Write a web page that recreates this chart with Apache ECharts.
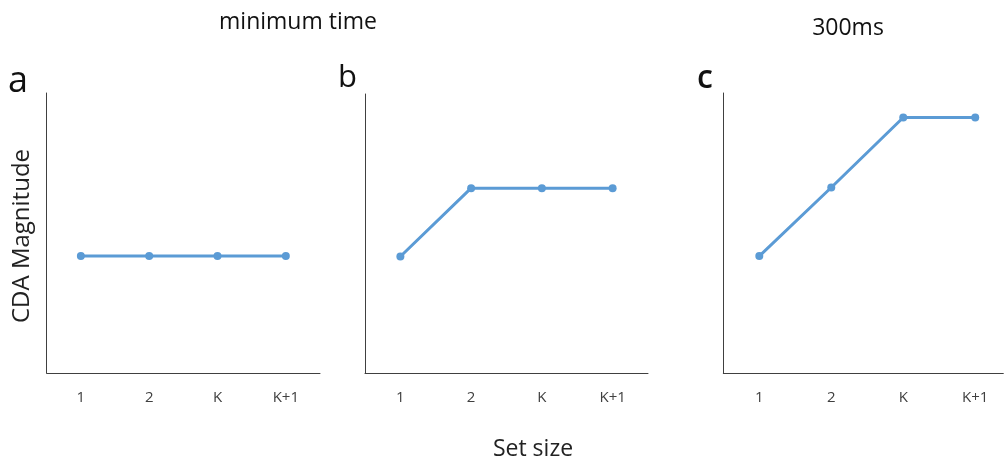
<!DOCTYPE html>
<html>
<head>
<meta charset="utf-8">
<script src="https://cdn.jsdelivr.net/npm/echarts@6/dist/echarts.min.js"></script>
<style>html,body{margin:0;padding:0;background:#fff}#c{width:1004px;height:460px}</style>
</head>
<body>
<div id="c"></div>
<script>
const categories = ['1', '2', 'K', 'K+1'];
const panelA = [1.67, 1.67, 1.67, 1.67];
const panelB = [1.67, 2.65, 2.65, 2.65];
const panelC = [1.67, 2.65, 3.65, 3.65];
const panelLetters = ['a', 'b', 'c'];
const topTitles = ['minimum time', '300ms'];
const yTitle = 'CDA Magnitude';
const xTitle = 'Set size';

const FONT = '"Open Sans", "Noto Sans", sans-serif';
const BLUE = '#5B9BD5';
const AXIS = '#404040';
const grids = [
  {left: 46.7, top: 93, width: 273.3, height: 280},
  {left: 365, top: 94, width: 283, height: 279},
  {left: 723.3, top: 93, width: 280, height: 280}
];
const datas = [panelA, panelB, panelC];
const labelStyle = {color: AXIS, fontSize: 15, fontFamily: FONT, margin: 17};

const xAxes = [0, 1].map(i => ({
  type: 'category', gridIndex: i, data: categories, boundaryGap: true,
  axisLine: {lineStyle: {color: AXIS, width: 1}},
  axisTick: {show: false},
  axisLabel: labelStyle
}));
// panel c continues past the right edge of the picture: value axis cut at the edge
xAxes.push({
  type: 'value', gridIndex: 2, min: -0.5, max: 3.39, interval: 0.5,
  axisLine: {show: true, onZero: false, lineStyle: {color: AXIS, width: 1}},
  axisTick: {show: false},
  splitLine: {show: false},
  axisLabel: Object.assign({}, labelStyle, {
    showMinLabel: false, showMaxLabel: false,
    formatter: v => (Math.abs(v - Math.round(v)) < 1e-6 && categories[Math.round(v)] !== undefined) ? categories[Math.round(v)] : ''
  })
});

const chart = echarts.init(document.getElementById('c'));
chart.setOption({
  animation: false,
  backgroundColor: '#fff',
  grid: grids,
  xAxis: xAxes,
  yAxis: grids.map((g, i) => ({
    type: 'value', gridIndex: i, min: 0, max: 4,
    axisLine: {show: true, onZero: false, lineStyle: {color: AXIS, width: 1}},
    axisTick: {show: false},
    axisLabel: {show: false},
    splitLine: {show: false}
  })),
  series: datas.map((d, i) => ({
    type: 'line', xAxisIndex: i, yAxisIndex: i,
    data: i === 2 ? d.map((v, k) => [k, v]) : d,
    symbol: 'circle', symbolSize: 8,
    lineStyle: {color: BLUE, width: 3},
    itemStyle: {color: BLUE}
  })),
  graphic: [
    {type: 'text', x: 298, y: 22, style: {text: topTitles[0], font: 'normal 23px ' + FONT, fill: '#111', align: 'center', verticalAlign: 'middle'}},
    {type: 'text', x: 848, y: 28, style: {text: topTitles[1], font: 'normal 23px ' + FONT, fill: '#111', align: 'center', verticalAlign: 'middle'}},
    {type: 'text', x: 18, y: 82, style: {text: panelLetters[0], font: 'normal 36px ' + FONT, fill: '#111', align: 'center', verticalAlign: 'middle'}},
    {type: 'text', x: 347.5, y: 78, style: {text: panelLetters[1], font: 'normal 31px ' + FONT, fill: '#111', align: 'center', verticalAlign: 'middle'}},
    {type: 'text', x: 705, y: 79, style: {text: panelLetters[2], font: '600 32px ' + FONT, fill: '#111', align: 'center', verticalAlign: 'middle'}},
    {type: 'text', x: 22, y: 236, rotation: Math.PI / 2,
     style: {text: yTitle, font: 'normal 24px ' + FONT, fill: '#222', align: 'center', verticalAlign: 'middle'}},
    {type: 'text', x: 533, y: 449,
     style: {text: xTitle, font: 'normal 23px ' + FONT, fill: '#222', align: 'center', verticalAlign: 'middle'}}
  ]
});
</script>
</body>
</html>
